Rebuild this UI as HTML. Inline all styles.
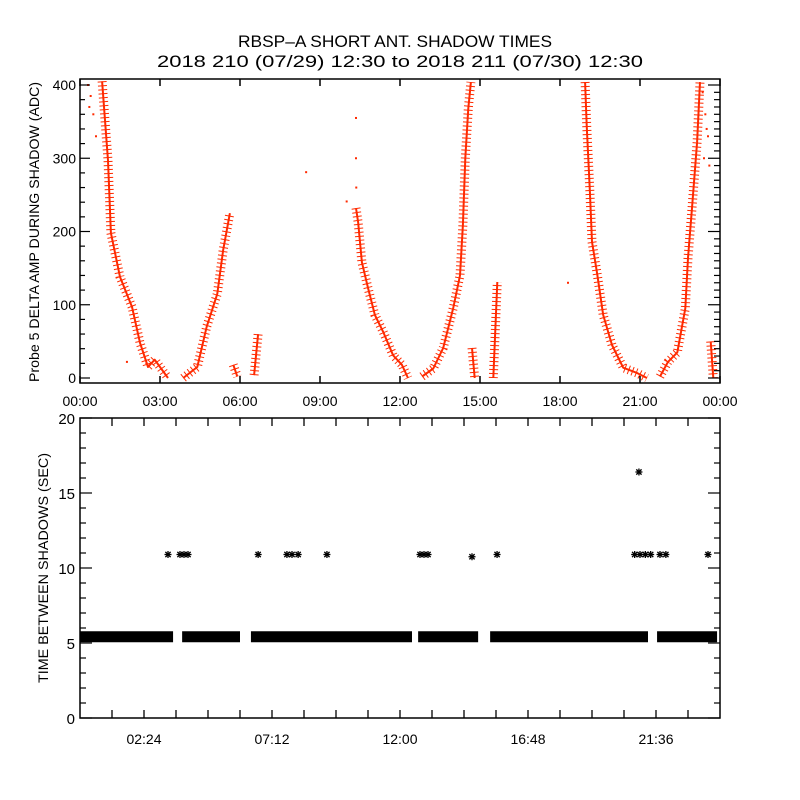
<!DOCTYPE html>
<html><head><meta charset="utf-8"><style>
html,body{margin:0;padding:0;background:#fff;}
svg{display:block;font-family:"Liberation Sans",sans-serif;}
</style></head><body>
<svg id="chart" width="800" height="800" viewBox="0 0 800 800" xmlns="http://www.w3.org/2000/svg">
<rect width="800" height="800" fill="#fff"/>
<text x="395" y="47" font-size="17" text-anchor="middle" textLength="314" lengthAdjust="spacingAndGlyphs">RBSP–A SHORT ANT. SHADOW TIMES</text>
<text x="400" y="67" font-size="17" text-anchor="middle" textLength="486" lengthAdjust="spacingAndGlyphs">2018 210 (07/29) 12:30 to 2018 211 (07/30) 12:30</text>
<text transform="translate(39,232) rotate(-90)" font-size="14" text-anchor="middle" textLength="300" lengthAdjust="spacingAndGlyphs">Probe 5 DELTA AMP DURING SHADOW (ADC)</text>
<text transform="translate(48,568) rotate(-90)" font-size="14" text-anchor="middle" textLength="230" lengthAdjust="spacingAndGlyphs">TIME BETWEEN SHADOWS (SEC)</text>
<g id="top"></g>
<g id="bot"></g>
</svg>
<script>
// ---- Top panel data (hours, ADC) ----
const curveHours = [
 [0.83,1.05,1.16,1.5,1.95,2.25,2.55,2.8,3.3],
 [3.87,4.4,4.75,5.15,5.37,5.62],
 [5.75,5.9],
 [6.53,6.68],
 [10.35,10.43,10.57,10.8,11.06,11.37,11.74,12.07,12.3],
 [12.83,13.25,13.62,14.0,14.25,14.36,14.45,14.56,14.66],
 [14.7,14.8],
 [15.5,15.65],
 [18.94,19.0,19.12,19.2,19.4,19.62,19.95,20.37,20.88,21.26],
 [21.75,22.05,22.4,22.7,22.8,22.95,23.14,23.25],
 [23.65,23.75]
];
const curveValues = [
 [405,297,198,138,97,48,15,25,0],
 [0,15,70,115,175,225],
 [18,2],
 [4,60],
 [232,213,158,123,86,63,31,18,0],
 [2,13,41,96,140,209,300,368,404],
 [41,0],
 [0,131],
 [404,345,254,186,141,86,45,14,7,0],
 [2,22,35,95,164,232,322,404],
 [50,0]
];
const sparseHours = [0.3,0.4,0.5,0.6,0.35,10.35,10.35,10.36,8.48,10.0,1.76,18.3,23.35,23.45,23.55,23.4,23.5,23.6];
const sparseValues = [400,385,360,330,370,355,300,260,281,241,22,130,390,360,330,300,340,290];
const topXTicks = ["00:00","03:00","06:00","09:00","12:00","15:00","18:00","21:00","00:00"];
const topYTicks = [0,100,200,300,400];

// ---- Bottom panel data ----
const bandStart = [0,3.83,6.41,12.68,15.38,21.64];
const bandEnd = [3.49,6.0,12.45,14.93,21.3,23.89];
const bandValue = [5.45,5.45,5.45,5.45,5.45,5.45];
const starHours = [3.3,3.75,3.9,4.05,6.68,7.76,7.95,8.18,9.26,12.75,12.9,13.05,14.7,15.64,20.8,21.0,21.2,21.4,21.75,21.97,23.55,20.96];
const starValues = [10.9,10.9,10.9,10.9,10.9,10.9,10.9,10.9,10.9,10.9,10.9,10.9,10.75,10.9,10.9,10.9,10.9,10.9,10.9,10.9,10.9,16.4];
const botXTicks = ["02:24","07:12","12:00","16:48","21:36"];
const botYTicks = [0,5,10,15,20];

const NS="http://www.w3.org/2000/svg";
function mk(parent,tag,attrs){const e=document.createElementNS(NS,tag);for(const k in attrs)e.setAttribute(k,attrs[k]);parent.appendChild(e);return e;}
const L=80,R=720;
const xs=h=>L+h*(R-L)/24;
const T0=79,T1=383;
const yTop=v=>378-v*0.7325;
const B0=418,B1=718;
const yBot=v=>718-v*15;

const topG=document.getElementById('top');
const botG=document.getElementById('bot');

curveHours.forEach((hs,i)=>{
  const pts=hs.map((h,j)=>xs(h).toFixed(1)+','+Math.max(T0,yTop(curveValues[i][j])).toFixed(1)).join(' ');
  const s=mk(topG,'polyline',{points:pts,fill:'none',stroke:'#ff2a00','stroke-width':9,'stroke-dasharray':'1 3','stroke-linejoin':'round'});
  
  
  const c=mk(topG,'polyline',{points:pts,fill:'none',stroke:'#ff2a00','stroke-width':2,'stroke-linejoin':'round'});
  
  
});
sparseHours.forEach((h,i)=>{
  const d=mk(topG,'rect',{x:xs(h)-1,y:yTop(sparseValues[i])-1,width:2,height:2,fill:'#ff2a00'});
  
  
});
const tf=mk(topG,'rect',{x:L,y:T0,width:R-L,height:T1-T0,fill:'none',stroke:'#000','stroke-width':1.5});


topXTicks.forEach((t,i)=>{
  const x=L+i*(R-L)/8;
  mk(topG,'line',{x1:x,x2:x,y1:T1,y2:T1-7,stroke:'#000','stroke-width':1.5});
  mk(topG,'line',{x1:x,x2:x,y1:T0,y2:T0+7,stroke:'#000','stroke-width':1.5});
  const tx=mk(topG,'text',{x:x,y:406,'font-size':14,'text-anchor':'middle'});
  tx.textContent=t;
  
  
});
for(let v=0;v<=400;v+=20){const y=yTop(v);const maj=v%100===0;mk(topG,'line',{x1:L,x2:L+(maj?10:5),y1:y,y2:y,stroke:'#000','stroke-width':1.2});}
for(let v=0;v<=400;v+=10){const y=yTop(v);const maj=v%100===0;mk(topG,'line',{x1:R,x2:R-(maj?12:6),y1:y,y2:y,stroke:'#000','stroke-width':1.2});}
topYTicks.forEach(v=>{
  const tx=mk(topG,'text',{x:L-4,y:yTop(v)+5,'font-size':14,'text-anchor':'end'});
  tx.textContent=v;
  
  
});

bandStart.forEach((s,i)=>{
  const r=mk(botG,'rect',{x:xs(s),y:yBot(bandValue[i])-5,width:xs(bandEnd[i])-xs(s),height:11,fill:'#000'});
  
  
});
starHours.forEach((h,i)=>{
  const cx=xs(h),cy=yBot(starValues[i]),r=3.5;
  const g=mk(botG,'g',{stroke:'#000','stroke-width':1.3});
  
  
  mk(g,'line',{x1:cx-r,x2:cx+r,y1:cy,y2:cy});
  mk(g,'line',{x1:cx,x2:cx,y1:cy-r,y2:cy+r});
  mk(g,'line',{x1:cx-r*.75,x2:cx+r*.75,y1:cy-r*.75,y2:cy+r*.75});
  mk(g,'line',{x1:cx-r*.75,x2:cx+r*.75,y1:cy+r*.75,y2:cy-r*.75});
});
const bf=mk(botG,'rect',{x:L,y:B0,width:R-L,height:B1-B0,fill:'none',stroke:'#000','stroke-width':1.5});


for(let k=1;k<20;k++){const x=L+k*32;mk(botG,'line',{x1:x,x2:x,y1:B1,y2:B1-8,stroke:'#000','stroke-width':1.3});mk(botG,'line',{x1:x,x2:x,y1:B0,y2:B0+8,stroke:'#000','stroke-width':1.3});}
botXTicks.forEach((t,i)=>{
  const tx=mk(botG,'text',{x:L+(i*2+1)*64,y:744,'font-size':14,'text-anchor':'middle'});
  tx.textContent=t;
  
  
});
for(let v=0;v<=20;v++){const y=yBot(v);const maj=v%5===0;
  mk(botG,'line',{x1:L,x2:L+(maj?12:6),y1:y,y2:y,stroke:'#000','stroke-width':1.2});
  mk(botG,'line',{x1:R,x2:R-(maj?12:6),y1:y,y2:y,stroke:'#000','stroke-width':1.2});}
botYTicks.forEach(v=>{
  const tx=mk(botG,'text',{x:L-5,y:yBot(v)+6,'font-size':15,'text-anchor':'end'});
  tx.textContent=v;
  
  
});
</script>
</body></html>
